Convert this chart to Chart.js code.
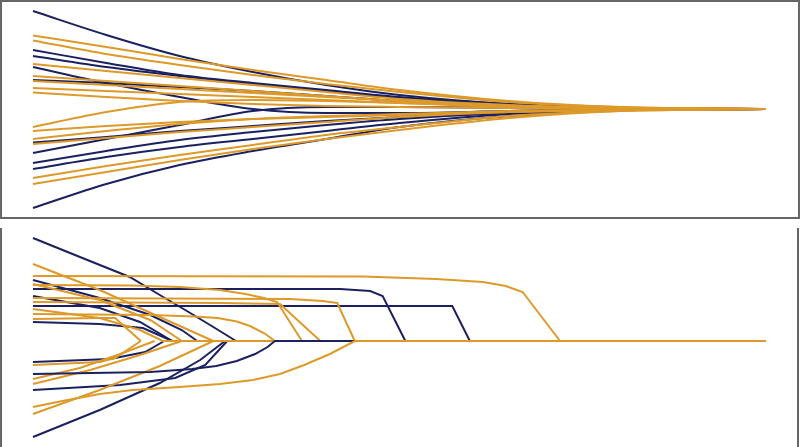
<!DOCTYPE html>
<html>
<head>
<meta charset="utf-8">
<script src="https://cdn.jsdelivr.net/npm/chart.js@4.4.1/dist/chart.umd.min.js"></script>
<style>
  html, body { margin: 0; padding: 0; background: #fff; }
  body { width: 800px; height: 447px; position: relative; overflow: hidden; }
  .frame { position: absolute; box-sizing: border-box; border: 0 solid #666; }
  #frame-top { left: 0; top: 0; width: 800px; height: 219px; border-width: 2px; }
  #frame-bottom { left: 0; top: 228px; width: 799px; height: 219px; border-left-width: 2px; border-right-width: 2px; }
  .plot { position: absolute; left: 0; width: 800px; height: 219px; }
  #plot-top { top: 0; }
  #plot-bottom { top: 228px; }
</style>
</head>
<body>
<div class="frame" id="frame-top"></div>
<div class="frame" id="frame-bottom"></div>
<div class="plot" id="plot-top"><canvas id="chart-top"></canvas></div>
<div class="plot" id="plot-bottom"><canvas id="chart-bottom"></canvas></div>
<script>
const NAVY = "#1b2160";
const GOLD = "#dd9a2a";

// top panel: every path sampled at the same steps, all settle on 0
const topSteps = [0, 10, 20, 30, 40, 50, 65, 80, 100];
const topNavy = [
  [98, 74, 53, 37, 24, 14, 5, 1, 0],
  [59, 46, 34, 26, 19, 12, 5, 1, 0],
  [53, 42, 33, 25, 18, 11, 4, 1, 0],
  [42, 26, 12, 0, -4, -4, -2, -0.5, 0],
  [29, 26, 22, 18, 13, 8, 3, 1, 0],
  [-33.5, -28, -22, -17, -12, -8, -3, -1, 0],
  [-44, -30, -16, -2, 2, 2, 1, 0, 0],
  [-54, -42, -31, -23, -16, -10, -4, -1, 0],
  [-60, -48, -38, -30, -22, -14, -5, -1, 0],
  [-99, -75, -56, -42, -30, -18, -7, -1.5, 0]
];
const topGold = [
  [73.5, 62, 50, 39, 29, 19, 8, 2, 0],
  [68.5, 55, 44, 34, 25, 17, 7, 2, 0],
  [45, 38, 31, 24, 17, 10, 4, 1, 0],
  [33, 28, 23, 18, 13, 8, 3, 1, 0],
  [28, 24, 20, 16, 12, 8, 3, 1, 0],
  [21, 18, 15, 12, 9, 6, 2, 0.5, 0],
  [16.5, 12, 8, 5, 3, 2, 1, 0, 0],
  [-18, -3, 7, 9, 8, 6, 3, 1, 0],
  [-22, -17, -13, -10, -8, -6, -3, -1, 0],
  [-30, -22, -15, -10, -7, -5, -2, -0.5, 0],
  [-35, -29, -23, -18, -13, -8, -3, -1, 0],
  [-69, -57, -46, -36, -26, -18, -7, -2, 0],
  [-75, -63, -51, -40, -30, -21, -9, -2, 0]
];

// bottom panel: [x, y] paths, each stops where it meets the centre line
const lowNavy = [
  [[0, 103], [6.4, 84], [13.2, 64], [17.3, 46], [21.0, 30], [24.6, 14], [27.7, 0]],
  [[0, 61], [9.1, 43], [16.0, 26], [20.3, 11], [22.4, 0]],
  [[0, 52], [41.9, 52], [46.0, 50], [47.7, 45], [50.8, 0]],
  [[0, 45], [9.1, 33], [14.6, 19], [19.0, 0]],
  [[0, 35], [57.2, 35], [59.6, 0]],
  [[0, 19], [9.1, 17], [15.0, 13], [19.0, 0]],
  [[0, -21], [10.5, -18], [15.3, -11], [17.9, 0]],
  [[0, -49], [11.9, -44], [19.4, -37], [23.5, -24], [26.5, 0]],
  [[0, -96], [9.1, -69], [17.3, -42], [22.8, -19], [26.2, 0]]
];
const lowGold = [
  [[0, 77], [9.1, 51], [17.3, 24], [24.6, 0]],
  [[0, 65], [45, 64.5], [55, 62], [61.4, 59], [64.5, 55], [66.8, 49], [71.9, 0]],
  [[0, 57], [9.1, 41], [16.0, 21], [20.3, 0]],
  [[0, 56], [13.6, 55.5], [20, 54], [25.5, 51], [29, 47], [31.5, 43], [33.3, 39], [36.7, 0]],
  [[0, 43], [35.1, 42], [39.5, 40], [41.5, 38], [43.9, 0]],
  [[0, 39], [25.5, 38], [33.7, 37], [39.2, 0]],
  [[0, 27], [16.0, 26], [22, 24.5], [25.2, 23], [27.8, 19.5], [29.6, 15], [31.5, 8], [33.0, 0]],
  [[0, 22], [9.1, 23], [11.2, 23], [14.7, 0]],
  [[0, -24], [9.1, -21], [11.2, -17], [14.7, 0]],
  [[0, -38], [6.4, -27], [11.9, -13], [16.6, 0]],
  [[0, -43], [7.8, -29], [14.6, -14], [20.3, 0]],
  [[0, -73], [9.1, -49], [17.3, -25], [24.6, 0]]
];
// these carry on along the centre line; listed top-most first
const lowTrunk = [
  [[0, -66], [4, -60], [9.1, -53], [13.6, -49], [20, -46], [25.5, -43], [30, -39], [33.7, -33], [37, -24], [40.5, -13], [43.9, 0], [100, 0]],
  [[0, -33], [16, -31], [21.7, -28], [25, -25], [27.8, -20], [30.3, -13], [32, -6], [33.0, 0], [100, 0]],
  [[0, 32], [9.1, 23], [14.6, 11], [17.7, 0], [100, 0]]
];
const lowTrunkColors = [GOLD, NAVY, GOLD];

function lineSet(points, color, smooth) {
  return {
    data: points.map(function (p) { return { x: p[0], y: p[1] }; }),
    borderColor: color,
    borderWidth: 2,
    pointRadius: 0,
    fill: false,
    clip: false,
    tension: 0,
    cubicInterpolationMode: smooth ? "monotone" : "default"
  };
}

function draw(id, datasets, yMin, yMax, pad) {
  new Chart(document.getElementById(id), {
    type: "line",
    data: { datasets: datasets },
    options: {
      responsive: true,
      maintainAspectRatio: false,
      animation: false,
      events: [],
      layout: { padding: pad },
      plugins: { legend: { display: false }, tooltip: { enabled: false } },
      scales: {
        x: { type: "linear", min: 0, max: 100, display: false },
        y: { type: "linear", min: yMin, max: yMax, display: false }
      }
    }
  });
}

const topSets = [];
topGold.forEach(function (s) {
  topSets.push(lineSet(s.map(function (v, i) { return [topSteps[i], v]; }), GOLD, true));
});
topNavy.forEach(function (s) {
  topSets.push(lineSet(s.map(function (v, i) { return [topSteps[i], v]; }), NAVY, true));
});
draw("chart-top", topSets, -100, 100, { left: 33, right: 34, top: 9, bottom: 10 });

const lowSets = [];
lowTrunk.forEach(function (p, i) { lowSets.push(lineSet(p, lowTrunkColors[i], false)); });
lowGold.forEach(function (p) { lowSets.push(lineSet(p, GOLD, false)); });
lowNavy.forEach(function (p) { lowSets.push(lineSet(p, NAVY, false)); });
draw("chart-bottom", lowSets, -100, 110, { left: 33, right: 34, top: 3, bottom: 6 });
</script>
</body>
</html>
